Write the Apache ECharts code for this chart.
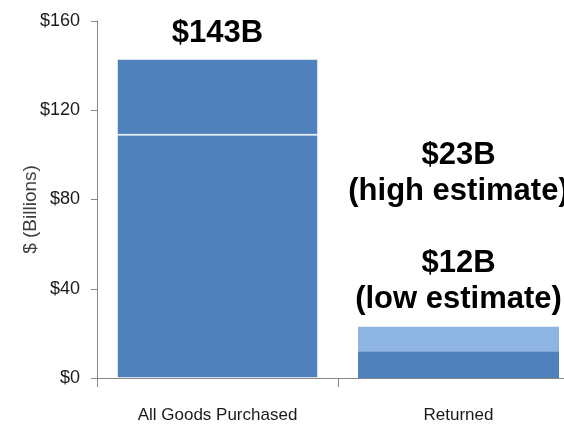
<!DOCTYPE html>
<html>
<head>
<meta charset="utf-8">
<script src="https://cdn.jsdelivr.net/npm/echarts@6/dist/echarts.min.js"></script>
<style>
  html, body { margin: 0; padding: 0; background: #ffffff; overflow: hidden; }
  /* the plot runs slightly past the right edge of the window */
  #chart { width: 579px; height: 429px; }
</style>
</head>
<body>
<div id="chart"></div>
<script>
// Spending categories and values, in billions of dollars
var categories = ['All Goods Purchased', 'Returned'];
// lower part of each column (Returned: low estimate)
var baseValues = [109, 12];
// upper part of each column (Returned: high estimate minus low estimate)
var topValues = [34, 11];
var yTicks = { min: 0, max: 160, interval: 40 };

var DARK = '#4F81BD';
var LIGHT = '#8EB4E3';

var totals = baseValues.map(function (v, i) { return v + topValues[i]; });

var chart = echarts.init(document.getElementById('chart'), null, { renderer: 'canvas' });

var labelFont = {
  fontFamily: 'Liberation Sans, Arial, sans-serif',
  fontWeight: 'bold',
  fontSize: 31,
  color: '#000000'
};

chart.setOption({
  animation: false,
  grid: { left: 97, top: 21, bottom: 51, right: 0, containLabel: false },
  xAxis: {
    type: 'category',
    data: categories,
    axisLine: { show: true, lineStyle: { color: '#868686', width: 1 } },
    axisTick: { show: true, alignWithLabel: false, length: 9, lineStyle: { color: '#868686' } },
    axisLabel: {
      interval: 0,
      margin: 29,
      fontFamily: 'Liberation Sans, Arial, sans-serif',
      fontSize: 17,
      color: '#1a1a1a'
    }
  },
  yAxis: {
    type: 'value',
    min: yTicks.min,
    max: yTicks.max,
    interval: yTicks.interval,
    name: '$ (Billions)',
    nameLocation: 'middle',
    nameGap: 57,
    nameRotate: 90,
    nameMoveOverlap: false,
    nameTextStyle: {
      fontFamily: 'Liberation Sans, Arial, sans-serif',
      fontSize: 19,
      color: '#404040',
      padding: [0, 20, 0, 0]
    },
    splitLine: { show: false },
    axisLine: { show: true, lineStyle: { color: '#868686', width: 1 } },
    axisTick: { show: true, inside: false, length: 6, lineStyle: { color: '#868686' } },
    axisLabel: {
      margin: 17,
      formatter: '${value}',
      fontFamily: 'Liberation Sans, Arial, sans-serif',
      fontSize: 18,
      color: '#1a1a1a'
    }
  },
  series: [
    {
      name: 'base',
      type: 'bar',
      stack: 'total',
      barWidth: '83.4%',
      data: baseValues.map(function (v, i) {
        return {
          value: v,
          itemStyle: i === 0
            ? { color: DARK, borderColor: 'rgba(255,255,255,0.55)', borderWidth: 1 }
            : { color: DARK }
        };
      })
    },
    {
      name: 'top',
      type: 'bar',
      stack: 'total',
      barWidth: '83.4%',
      data: topValues.map(function (v, i) {
        if (i === 0) {
          return {
            value: v,
            itemStyle: { color: DARK, borderColor: 'rgba(255,255,255,0.55)', borderWidth: 1 },
            label: {
              show: true,
              position: 'top',
              distance: 7,
              lineHeight: 36,
              formatter: '$' + totals[0] + 'B'
            }
          };
        }
        return {
          value: v,
          itemStyle: { color: LIGHT },
          label: {
            show: true,
            position: 'top',
            distance: 9,
            lineHeight: 36,
            formatter: '$' + totals[i] + 'B\n(high estimate)\n\n$' + baseValues[i] + 'B\n(low estimate)'
          }
        };
      }),
      label: labelFont
    }
  ]
});
</script>
</body>
</html>
